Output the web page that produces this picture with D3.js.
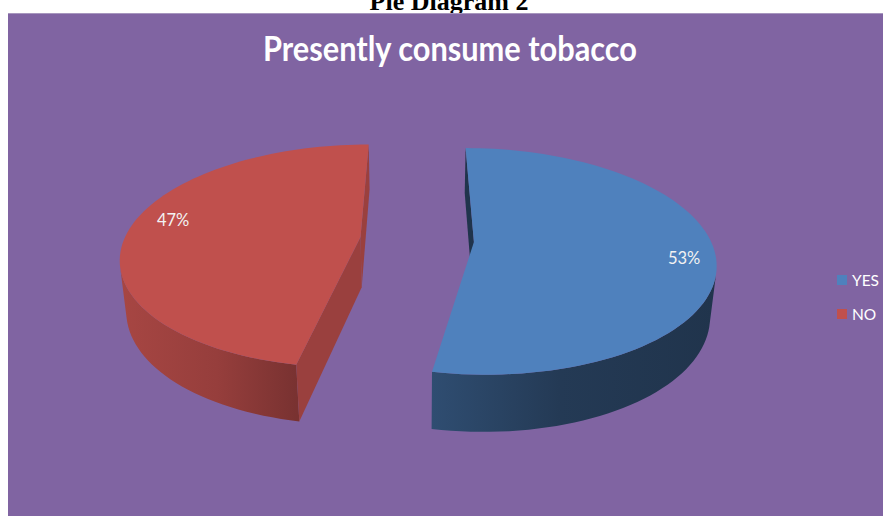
<!DOCTYPE html>
<html>
<head>
<meta charset="utf-8">
<script src="https://cdn.jsdelivr.net/npm/d3@7"></script>
<style>
  body { margin: 0; background: #ffffff; }
  svg { display: block; }
</style>
</head>
<body>
<script>
// ---- data ----
const categories = ["YES", "NO"];
const values = [53, 47];
const valueLabels = ["53%", "47%"];
const topColors = ["#4F81BD", "#C0504D"];
const heading = "Pie Diagram 2";
const title = "Presently consume tobacco";

// ---- page / frame ----
const W = 883, H = 516;
const svg = d3.select("body").append("svg").attr("width", W).attr("height", H);

svg.append("rect").attr("x", 0).attr("y", 0).attr("width", W).attr("height", H).attr("fill", "#ffffff");
svg.append("text")
  .attr("x", 449).attr("y", 10)
  .attr("text-anchor", "middle")
  .attr("font-family", "'Liberation Serif', 'DejaVu Serif', serif")
  .attr("font-weight", "bold")
  .attr("font-size", 26)
  .attr("fill", "#000")
  .text(heading);

// chart area
svg.append("rect").attr("x", 8).attr("y", 13).attr("width", W - 8).attr("height", H - 13).attr("fill", "#8064A2");
svg.append("line").attr("x1", 8).attr("x2", W).attr("y1", 13.5).attr("y2", 13.5)
  .attr("stroke", "#A796BE").attr("stroke-width", 1);

svg.append("text")
  .attr("x", 450).attr("y", 61)
  .attr("text-anchor", "middle")
  .attr("font-family", "Lato, 'Open Sans', sans-serif")
  .attr("font-weight", "bold")
  .attr("font-size", 34)
  .attr("textLength", 374).attr("lengthAdjust", "spacingAndGlyphs")
  .attr("fill", "#ffffff")
  .text(title);

// ---- 3D projection of the pie (perspective camera tilted above the table) ----
const cx = 417, cy = 239.5;
const phi = 27.5 * Math.PI / 180;   // camera elevation
const D = 5.2;                      // camera distance (in pie radii)
const f = 1229;                     // focal scale, px
const depth = 0.245;                // slab thickness (in pie radii)
const explode = 0.241;              // slice offset along bisector
const sinP = Math.sin(phi), cosP = Math.cos(phi);
const cam = [0, D * sinP, -D * cosP];

function project(X, Y, Z) {
  const zc = D - Y * sinP + Z * cosP;
  const uc = Y * cosP + Z * sinP;
  return [cx + f * X / zc, cy - f * uc / zc];
}

const pie = d3.pie().sort(null).value(d => d.value);
const arcs = pie(categories.map((c, i) => ({ name: c, value: values[i], color: topColors[i], label: valueLabels[i] })));

const line = d3.line();
const N = 180;

function shade(hex, k) {
  const c = d3.rgb(hex);
  return d3.rgb(c.r * k, c.g * k, c.b * k).formatHex();
}

const defs = svg.append("defs");
const pieG = svg.append("g");

arcs.forEach((a, i) => {
  const col = a.data.color;
  const mid = (a.startAngle + a.endAngle) / 2;
  const ox = explode * Math.sin(mid), oz = explode * Math.cos(mid);
  const pt = (r, th, y) => project(ox + r * Math.sin(th), y, oz + r * Math.cos(th));
  const g = pieG.append("g");

  // outer curved wall: keep the segments that face the camera
  const steps = Math.max(2, Math.round(N * (a.endAngle - a.startAngle) / (2 * Math.PI)));
  const angles = d3.range(steps + 1).map(k => a.startAngle + (a.endAngle - a.startAngle) * k / steps);
  let run = [];
  const runs = [];
  for (let k = 0; k < steps; k++) {
    const th = (angles[k] + angles[k + 1]) / 2;
    const P = [ox + Math.sin(th), -depth / 2, oz + Math.cos(th)];
    const n = [Math.sin(th), 0, Math.cos(th)];
    const dot = n[0] * (cam[0] - P[0]) + n[1] * (cam[1] - P[1]) + n[2] * (cam[2] - P[2]);
    if (dot > 0) {
      if (!run.length) run.push(angles[k]);
      run.push(angles[k + 1]);
    } else if (run.length) { runs.push(run); run = []; }
  }
  if (run.length) runs.push(run);

  // side gradient runs left to right on screen
  const sideStops = i === 0
    ? [["0%", shade(col, 0.60)], ["45%", shade(col, 0.45)], ["100%", shade(col, 0.40)]]
    : [["0%", shade(col, 0.87)], ["55%", shade(col, 0.78)], ["100%", shade(col, 0.63)]];

  runs.forEach((r, j) => {
    const top = r.map(th => pt(1, th, 0));
    const bot = r.map(th => pt(1, th, -depth)).reverse();
    const xs = top.map(p => p[0]);
    const gid = `side${i}_${j}`;
    const grad = defs.append("linearGradient").attr("id", gid)
      .attr("gradientUnits", "userSpaceOnUse")
      .attr("x1", d3.min(xs)).attr("x2", d3.max(xs)).attr("y1", 0).attr("y2", 0);
    sideStops.forEach(s => grad.append("stop").attr("offset", s[0]).attr("stop-color", s[1]));
    g.append("path").attr("d", line(top.concat(bot)) + "Z").attr("fill", `url(#${gid})`);
  });

  // radial cut faces (far one first)
  const faces = [
    { th: a.startAngle, n: [-Math.cos(a.startAngle), Math.sin(a.startAngle)] },
    { th: a.endAngle, n: [Math.cos(a.endAngle), -Math.sin(a.endAngle)] }
  ].map(fc => {
    const Pm = [ox + 0.5 * Math.sin(fc.th), -depth / 2, oz + 0.5 * Math.cos(fc.th)];
    const dot = fc.n[0] * (cam[0] - Pm[0]) + fc.n[1] * (cam[2] - Pm[2]);
    return Object.assign(fc, { visible: dot > 0, far: Pm[2] });
  }).filter(fc => fc.visible).sort((p, q) => q.far - p.far);

  faces.forEach(fc => {
    const poly = [pt(0, fc.th, 0), pt(1, fc.th, 0), pt(1, fc.th, -depth), pt(0, fc.th, -depth)];
    const k = i === 0 ? 0.40 : 0.80;
    g.append("path").attr("d", line(poly) + "Z").attr("fill", shade(col, k));
  });

  // top face
  const topPts = [pt(0, 0, 0)].concat(angles.map(th => pt(1, th, 0)));
  g.append("path").attr("d", line(topPts) + "Z").attr("fill", col);
});

// ---- value labels ----
const labelPos = [[0.87, 0.07], [0.84, 0.10]]; // radius fraction, angle nudge (rad)
arcs.forEach((a, i) => {
  const mid = (a.startAngle + a.endAngle) / 2;
  const ox = explode * Math.sin(mid), oz = explode * Math.cos(mid);
  const th = mid + labelPos[i][1];
  const p = project(ox + labelPos[i][0] * Math.sin(th), 0, oz + labelPos[i][0] * Math.cos(th));
  svg.append("text")
    .attr("x", p[0]).attr("y", p[1])
    .attr("text-anchor", "middle").attr("dominant-baseline", "central")
    .attr("font-family", "Lato, 'Open Sans', sans-serif")
    .attr("font-size", 16.5)
    .attr("fill", "#F2F2F2")
    .text(a.data.label);
});

// ---- legend ----
const legend = svg.append("g").attr("transform", "translate(837,280)");
const lg = legend.selectAll("g").data(categories).join("g")
  .attr("transform", (d, i) => `translate(0,${i * 34})`);
lg.append("rect").attr("x", 0).attr("y", -5).attr("width", 10).attr("height", 10)
  .attr("fill", (d, i) => topColors[i]);
lg.append("text").attr("x", 15).attr("y", 0)
  .attr("dominant-baseline", "central")
  .attr("font-family", "Lato, 'Open Sans', sans-serif")
  .attr("font-size", 15.5)
  .attr("fill", "#ffffff")
  .text(d => d);
</script>
</body>
</html>
